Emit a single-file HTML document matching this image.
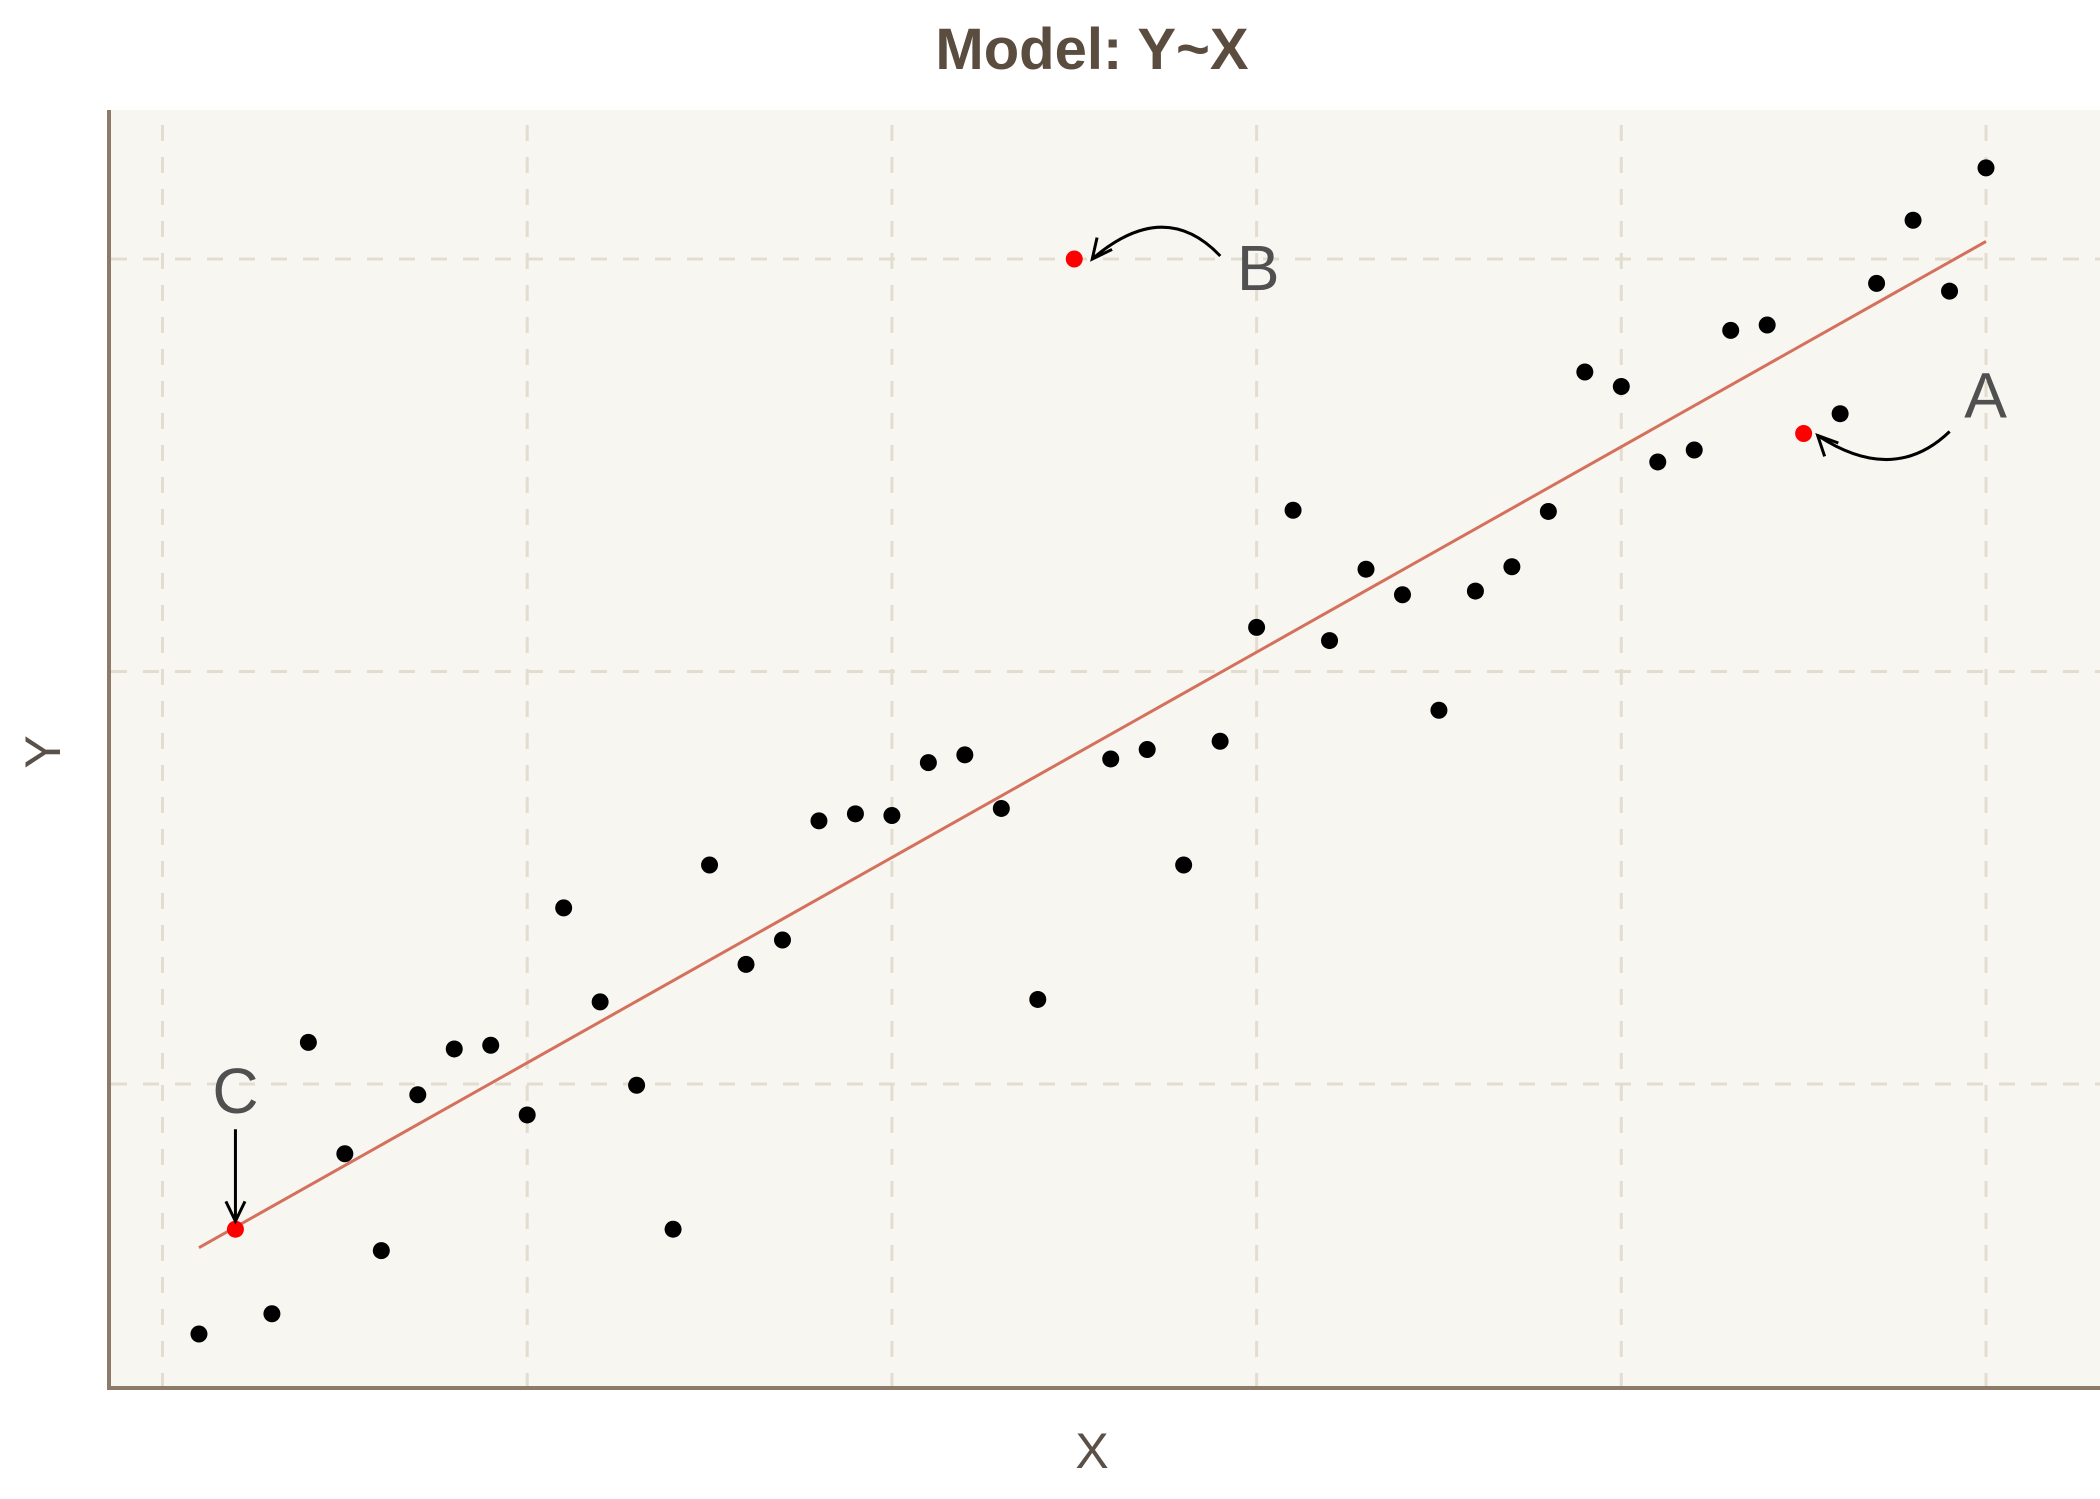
<!DOCTYPE html>
<html><head><meta charset="utf-8"><style>
html,body{margin:0;padding:0;background:#fff;}
svg{display:block;font-family:"Liberation Sans",sans-serif;}
</style></head><body>
<svg id="chart" width="2100" height="1499" viewBox="0 0 2100 1499">
<rect x="109" y="110" width="1991" height="1278" fill="#f8f6f1"/>
<g id="grid"></g>
<line x1="109" y1="110" x2="109" y2="1390" stroke="#8b7b68" stroke-width="4"/>
<line x1="107" y1="1388" x2="2100" y2="1388" stroke="#8b7b68" stroke-width="4"/>
<g id="marks"></g>
<g id="annot"></g>
<text x="1092" y="69" text-anchor="middle" font-size="58" font-weight="bold" fill="#5a4d40">Model: Y~X</text>
<text x="1092" y="1468" text-anchor="middle" font-size="50" fill="#5a5048">X</text>
<text transform="translate(60,752) rotate(-90)" text-anchor="middle" font-size="50" fill="#5a5048">Y</text>
</svg>
<script>
const xs=[1,2,3,4,5,6,7,8,9,10,11,12,13,14,15,16,17,18,19,20,21,22,23,24,25,26,27,28,29,30,31,32,33,34,35,36,37,38,39,40,41,42,43,44,45,46,47,48,49,50];
const ys=[3.94,6.48,4.43,11.01,8.31,5.96,9.74,10.85,10.94,9.25,14.27,11.99,9.97,6.48,15.31,12.90,13.49,16.38,16.55,16.51,17.79,17.98,16.68,12.05,30.0,17.88,18.11,15.31,18.31,21.07,23.91,20.75,22.48,21.86,19.06,21.95,22.54,23.88,27.26,26.91,25.08,25.37,28.27,28.40,25.77,26.25,29.41,30.94,29.22,32.21];
const highlighted=[2,25,45];
const xTicks=[0,10,20,30,40,50];
const yTicks=[10,20,30];

const NS="http://www.w3.org/2000/svg";
const sx=v=>162.5+v*36.47;
const sy=v=>1084-(v-10)*41.25;
function mk(tag,at,parent){const e=document.createElementNS(NS,tag);for(const k in at)e.setAttribute(k,at[k]);parent.appendChild(e);return e;}
const grid=document.getElementById('grid'),marks=document.getElementById('marks'),ann=document.getElementById('annot');
xTicks.forEach(t=>{const l=mk('line',{x1:sx(t),x2:sx(t),y1:125,y2:1386,stroke:'#e2ddcf','stroke-width':3,'stroke-dasharray':'16 16'},grid);

});
yTicks.forEach(t=>{const l=mk('line',{x1:111,x2:2100,y1:sy(t),y2:sy(t),stroke:'#e2ddcf','stroke-width':3,'stroke-dasharray':'16 16'},grid);

});
const n=xs.length,mx=xs.reduce((a,b)=>a+b)/n,my=ys.reduce((a,b)=>a+b)/n;
let sxy=0,sxx=0;for(let i=0;i<n;i++){sxy+=(xs[i]-mx)*(ys[i]-my);sxx+=(xs[i]-mx)**2;}
const b=sxy/sxx,a=my-b*mx;
const x0=Math.min(...xs),x1=Math.max(...xs);
const fl=mk('line',{x1:sx(x0),y1:sy(a+b*x0),x2:sx(x1),y2:sy(a+b*x1),stroke:'#d4705c','stroke-width':3},marks);


for(let i=0;i<n;i++){const hi=highlighted.includes(xs[i]);
const c=mk('circle',{cx:sx(xs[i]),cy:sy(ys[i]),r:8.5,fill:hi?'#ff0000':'#000'},marks);

}
function pt(i){return [sx(xs[i-1]),sy(ys[i-1])];}
function head(x,y,ang,parent){const L=22,s=0.45;
const p=`M${x+L*Math.cos(ang+s)},${y+L*Math.sin(ang+s)} L${x},${y} L${x+L*Math.cos(ang-s)},${y+L*Math.sin(ang-s)}`;
return mk('path',{d:p,fill:'none',stroke:'#000','stroke-width':3},parent);}
let [ax,ay]=pt(45);
let g=mk('g',{},ann);
mk('path',{d:`M${ax+146},${ay-2} Q${ax+90},${ay+52} ${ax+14},${ay+2}`,fill:'none',stroke:'#000','stroke-width':3},g);
head(ax+14,ay+2,Math.atan2(-2,-10)+Math.PI+0.6,g);
let t=mk('text',{x:ax+182,y:ay-16,'text-anchor':'middle','font-size':64,fill:'#505050'},g);t.textContent='A';
let [bx,by]=pt(25);
g=mk('g',{},ann);
mk('path',{d:`M${bx+146},${by-3} Q${bx+90},${by-62} ${bx+18},${by}`,fill:'none',stroke:'#000','stroke-width':3},g);
head(bx+18,by,-0.9,g);
t=mk('text',{x:bx+184,y:by+31,'text-anchor':'middle','font-size':64,fill:'#505050'},g);t.textContent='B';
let [cx,cy]=pt(2);
g=mk('g',{},ann);
mk('line',{x1:cx,y1:cy-100,x2:cx,y2:cy-8,stroke:'#000','stroke-width':3},g);
head(cx,cy-8,-Math.PI/2,g);
t=mk('text',{x:cx,y:cy-116,'text-anchor':'middle','font-size':64,fill:'#505050'},g);t.textContent='C';
</script>
</body></html>
